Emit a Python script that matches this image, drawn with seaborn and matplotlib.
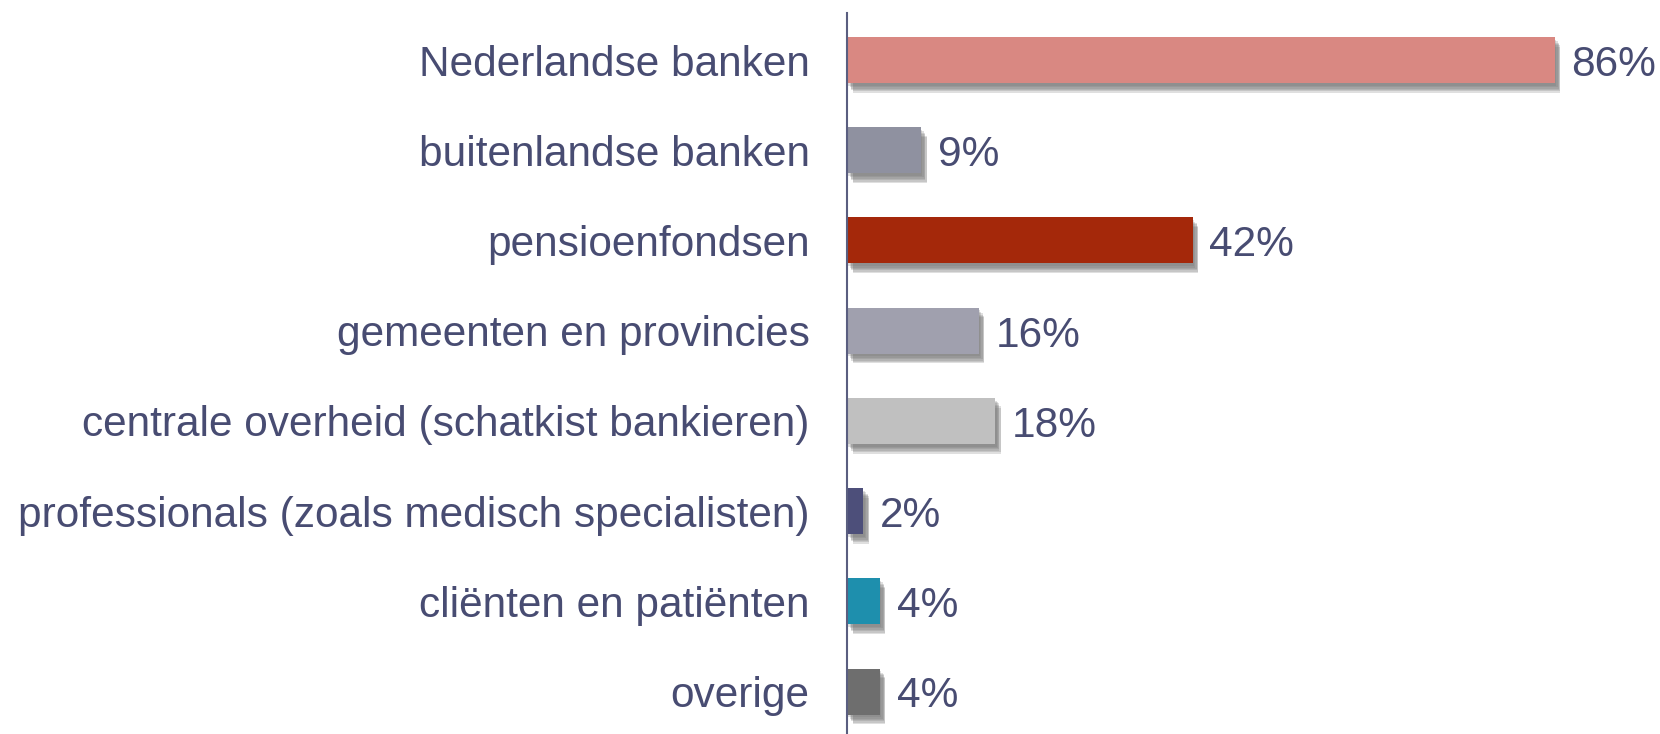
import pandas as pd
import matplotlib.pyplot as plt
import matplotlib.patheffects as pe
import seaborn as sns

categories = [
    'Nederlandse banken',
    'buitenlandse banken',
    'pensioenfondsen',
    'gemeenten en provincies',
    'centrale overheid (schatkist bankieren)',
    'professionals (zoals medisch specialisten)',
    'cliënten en patiënten',
    'overige',
]
values = [86, 9, 42, 16, 18, 2, 4, 4]
bar_colors = ['#D98882', '#8F91A0', '#A4280A', '#A0A0AE', '#C0C0C0', '#4D4F7A', '#1E8FAD', '#6E6E6E']

text_color = '#484C72'

sns.set_theme(style='white')
plt.rcParams['font.family'] = ['Liberation Sans', 'DejaVu Sans']

df = pd.DataFrame({'categorie': categories, 'aandeel': values})

fig = plt.figure(figsize=(16.6, 7.34), dpi=100)
ax = fig.add_axes([847 / 1660, 0, 1 - 847 / 1660, 1 - 13 / 734])

sns.barplot(data=df, y='categorie', x='aandeel', hue='categorie', palette=bar_colors,
            orient='h', width=0.51, legend=False, ax=ax, saturation=1)

# zachte schaduw onder de balken (een paar lagen over elkaar)
shadow = [pe.SimplePatchShadow(offset=(dx, dy), shadow_rgbFace='#707070', alpha=0.22)
          for dx, dy in [(1, -2), (2, -3), (3, -4), (3, -5), (4, -6), (4, -7)]]
for patch in ax.patches:
    patch.set_path_effects(shadow + [pe.Normal()])
    patch.set_linewidth(0)

for container in ax.containers:
    labels = [f'{v:.0f}%' for v in container.datavalues]
    anns = ax.bar_label(container, labels=labels, padding=12, fontsize=30.5, color=text_color, clip_on=False)
    for a in anns:
        a.xyann = (12, -3.5)

ax.set_xlim(0, 813 / 8.23)
ax.set_ylim(7.471, -0.521)
ax.set_xlabel('')
ax.set_ylabel('')
ax.set_xticks([])
ax.tick_params(axis='y', length=0, pad=27, labelsize=30.5, labelcolor=text_color)

for side in ['top', 'right', 'bottom']:
    ax.spines[side].set_visible(False)
ax.spines['left'].set_color('#5A5E80')
ax.spines['left'].set_linewidth(1.5)

fig.savefig('out.png', dpi=100)
